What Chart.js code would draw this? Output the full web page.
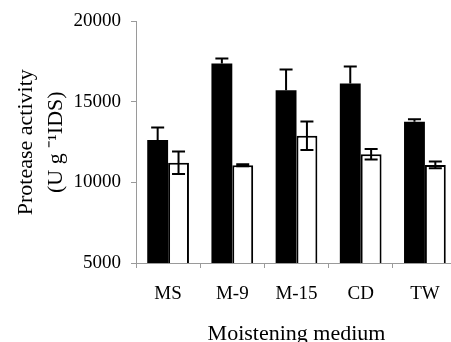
<!DOCTYPE html>
<html>
<head>
<meta charset="utf-8">
<script src="https://cdn.jsdelivr.net/npm/chart.js@4"></script>
<style>
  html, body { margin: 0; padding: 0; background: #fff; overflow: hidden; }
  #wrap { width: 457px; height: 342px; }
</style>
</head>
<body>
<div id="wrap"><canvas id="proteaseChart"></canvas></div>
<script>
// Moistening media on the x axis
const categories = ["MS", "M-9", "M-15", "CD", "TW"];

// Black bars (with upward error only) and white bars (error both ways)
const blackValues = [12640, 17390, 15720, 16150, 13770];
const blackErrors = [780, 310, 1300, 1050, 150];
const whiteValues = [11230, 11070, 12900, 11750, 11090];
const whiteErrors = [700, 60, 890, 330, 210];

// Y axis ticks
const yTicks = [5000, 10000, 15000, 20000];

const serif = "'Liberation Serif', 'Times New Roman', serif";
const axisGray = "#9a9a9a";

// Draws error bars on top of the bars
const errorBars = {
    id: "errorBars",
    afterDatasetsDraw(chart) {
        const ctx = chart.ctx;
        const yScale = chart.scales.y;
        const cap = 6.5;
        ctx.save();
        ctx.strokeStyle = "#000";
        ctx.lineWidth = 2;
        chart.data.datasets.forEach((ds, di) => {
            const meta = chart.getDatasetMeta(di);
            meta.data.forEach((bar, i) => {
                const v = ds.data[i];
                const e = ds.errors[i];
                const yTop = yScale.getPixelForValue(v + e);
                const yBot = ds.upOnly ? yScale.getPixelForValue(v) : yScale.getPixelForValue(v - e);
                ctx.beginPath();
                ctx.moveTo(bar.x, yTop);
                ctx.lineTo(bar.x, yBot);
                ctx.moveTo(bar.x - cap, yTop);
                ctx.lineTo(bar.x + cap, yTop);
                if (!ds.upOnly) {
                    ctx.moveTo(bar.x - cap, yBot);
                    ctx.lineTo(bar.x + cap, yBot);
                }
                ctx.stroke();
            });
        });
        ctx.restore();
    }
};

const ctx = document.getElementById("proteaseChart").getContext("2d");
const chart = new Chart(ctx, {
    type: "bar",
    data: {
        labels: categories,
        datasets: [{
            data: blackValues,
            errors: blackErrors,
            upOnly: true,
            backgroundColor: "#000",
            borderColor: "#000",
            borderWidth: 0,
            categoryPercentage: 0.65,
            barPercentage: 1.0
        }, {
            data: whiteValues,
            errors: whiteErrors,
            upOnly: false,
            backgroundColor: "#fff",
            borderColor: "#000",
            borderWidth: 2,
            categoryPercentage: 0.65,
            barPercentage: 1.0
        }]
    },
    options: {
        responsive: true,
        maintainAspectRatio: false,
        animation: false,
        layout: { padding: { top: 20, right: 0, left: 0, bottom: 0 } },
        plugins: {
            legend: { display: false },
            tooltip: { enabled: false }
        },
        scales: {
            x: {
                grid: {
                    display: true,
                    drawOnChartArea: false,
                    drawTicks: true,
                    tickLength: 5,
                    color: axisGray,
                    offset: true
                },
                border: { color: axisGray, width: 1 },
                ticks: {
                    color: "#000",
                    font: { family: serif, size: 19 },
                    padding: 15
                },
                title: {
                    display: true,
                    text: "Moistening medium",
                    color: "#000",
                    font: { family: serif, size: 22 },
                    padding: { top: 16, bottom: -5 }
                },
                afterFit(scale) { scale.height = 79; }
            },
            y: {
                min: 5000,
                max: 20000,
                afterBuildTicks(scale) { scale.ticks = yTicks.map(v => ({ value: v })); },
                grid: {
                    display: true,
                    drawOnChartArea: false,
                    drawTicks: true,
                    tickLength: 5,
                    color: axisGray
                },
                border: { color: axisGray, width: 1 },
                ticks: {
                    color: "#000",
                    font: { family: serif, size: 19 },
                    padding: 10,
                    callback: v => String(v)
                },
                title: {
                    display: true,
                    text: ["Protease activity", "(U g \u207B\u00B9IDS)"],
                    color: "#000",
                    font: { family: serif, size: 22, lineHeight: 1.36 },
                    padding: { top: 11, bottom: 0 }
                },
                afterFit(scale) { scale.width = 136; }
            }
        }
    },
    plugins: [errorBars]
});
</script>
</body>
</html>
